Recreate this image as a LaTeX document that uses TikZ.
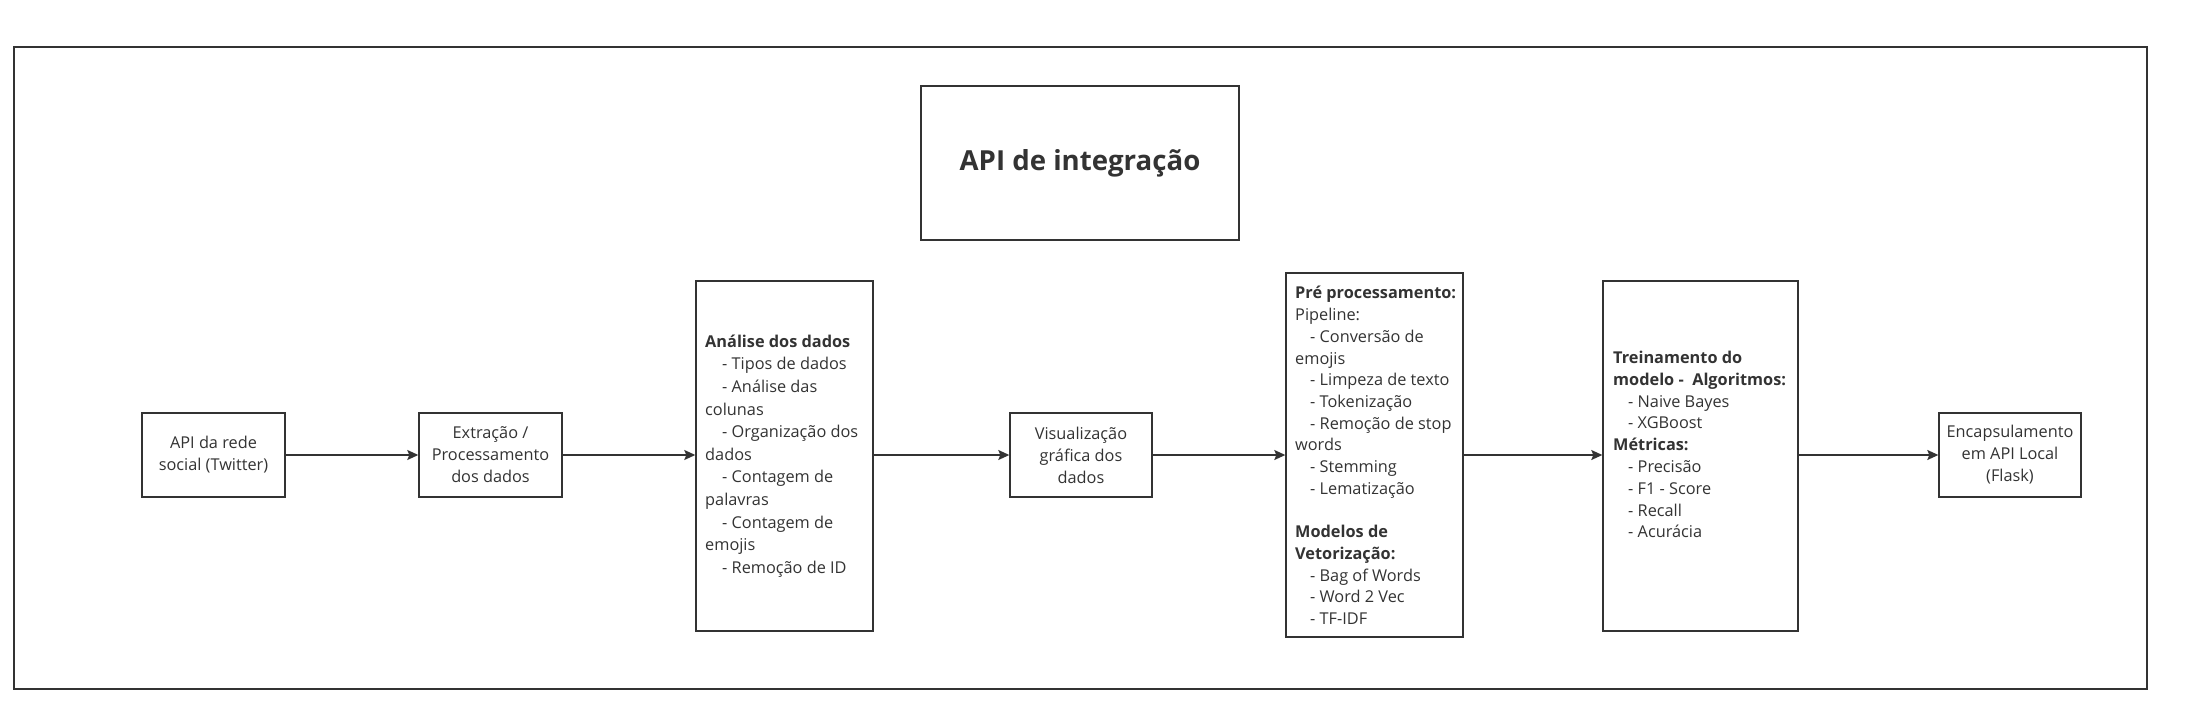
\documentclass[tikz,border=0pt]{standalone}
\usepackage{fontspec}
\setmainfont{Open Sans}
\usetikzlibrary{arrows.meta}
\definecolor{linec}{RGB}{51,51,51}
\definecolor{textc}{RGB}{51,51,51}
\newcommand{\ind}[1]{\hspace*{#1}}
\begin{document}
\begin{tikzpicture}[x=1pt,y=-1pt,
  box/.style={draw=linec, line width=1.4pt, fill=white, inner sep=0pt, text=textc, align=center,
    font=\fontsize{16.3}{22}\selectfont},
  txt/.style={anchor=west, inner sep=0pt, text=textc, align=left},
  arr/.style={draw=linec, line width=1.4pt, -{Stealth[length=11pt,width=10pt,inset=2pt]}}]
\useasboundingbox (0,0) rectangle (2188,714);
\fill[white] (0,0) rectangle (2188,714);
\node[draw=linec, line width=1.4pt, minimum width=2133pt, minimum height=642pt, inner sep=0pt] (frame) at (1080.5,368) {};
\node[box, minimum width=318pt, minimum height=154pt, font=\fontsize{27.6}{32}\selectfont\bfseries] (title) at (1080,163) {API de integração};
\node[box, minimum width=143pt, minimum height=84pt] (b1) at (213.5,455) {API da rede\\social (Twitter)};
\node[box, minimum width=143pt, minimum height=84pt] (b2) at (490.5,455) {Extração /\\Processamento\\dos dados};
\node[box, minimum width=177pt, minimum height=350pt] (b3) at (784.5,456) {};
\node[box, minimum width=142pt, minimum height=84pt] (b4) at (1081,455) {Visualização\\gráfica dos\\dados};
\node[box, minimum width=177pt, minimum height=364pt] (b5) at (1374.5,455) {};
\node[box, minimum width=195pt, minimum height=350pt] (b6) at (1700.5,456) {};
\node[box, minimum width=142pt, minimum height=84pt] (b7) at (2010,455) {Encapsulamento\\em API Local\\(Flask)};
\node[txt, font=\fontsize{16.3}{22.6}\selectfont] (t3) at (705,456) {\textbf{Análise dos dados}\\
\ind{17pt}- Tipos de dados\\
\ind{17pt}- Análise das\\
colunas\\
\ind{17pt}- Organização dos\\
dados\\
\ind{17pt}- Contagem de\\
palavras\\
\ind{17pt}- Contagem de\\
emojis\\
\ind{17pt}- Remoção de ID};
\node[txt, font=\fontsize{16.3}{21.7}\selectfont] (t5) at (1295,455.5) {\textbf{Pré processamento:}\\
Pipeline:\\
\ind{15pt}- Conversão de\\
emojis\\
\ind{15pt}- Limpeza de texto\\
\ind{15pt}- Tokenização\\
\ind{15pt}- Remoção de stop\\
words\\
\ind{15pt}- Stemming\\
\ind{15pt}- Lematização\\
\mbox{}\\
\textbf{Modelos de}\\
\textbf{Vetorização:}\\
\ind{15pt}- Bag of Words\\
\ind{15pt}- Word 2 Vec\\
\ind{15pt}- TF-IDF};
\node[txt, font=\fontsize{16.3}{21.8}\selectfont] (t6) at (1613,444.5) {\textbf{Treinamento do}\\
\textbf{modelo -\ \ Algoritmos:}\\
\ind{15pt}- Naive Bayes\\
\ind{15pt}- XGBoost\\
\textbf{Métricas:}\\
\ind{15pt}- Precisão\\
\ind{15pt}- F1 - Score\\
\ind{15pt}- Recall\\
\ind{15pt}- Acurácia};
\draw[arr] (b1.east) -- (b2.west);
\draw[arr] (b2.east) -- (b2.east -| b3.west);
\draw[arr] (b4.west -| b3.east) -- (b4.west);
\draw[arr] (b4.east) -- (b4.east -| b5.west);
\draw[arr] (b5.east |- b7.west) -- (b7.west -| b6.west);
\draw[arr] (b7.west -| b6.east) -- (b7.west);
\end{tikzpicture}
\end{document}
